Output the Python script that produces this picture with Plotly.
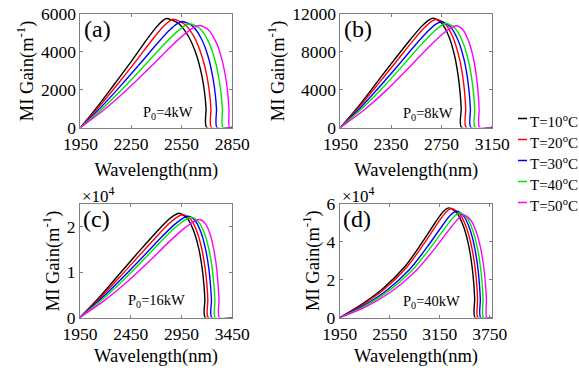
import plotly.graph_objects as go

W, H = 579, 368

temps = ["T=10<sup>o</sup>C", "T=20<sup>o</sup>C", "T=30<sup>o</sup>C", "T=40<sup>o</sup>C", "T=50<sup>o</sup>C"]
colors = ["#000000", "#ff0000", "#0000ff", "#00e600", "#ff00ff"]

# ---------- panel (a) P0 = 4 kW ----------
wl_a_10 = [1950, 2052, 2154, 2256, 2333, 2394, 2435, 2460, 2532, 2591, 2639, 2670, 2687, 2695, 2699, 2850]
g_a_10 = [0, 1120, 2330, 3550, 4530, 5250, 5630, 5770, 5505, 4818, 3814, 2741, 1800, 998, 0, 0]
wl_a_20 = [1950, 2060, 2170, 2280, 2363, 2429, 2473, 2500, 2568, 2625, 2670, 2700, 2716, 2724, 2727, 2850]
g_a_20 = [0, 1100, 2290, 3530, 4500, 5230, 5600, 5730, 5466, 4785, 3788, 2722, 1788, 991, 0, 0]
wl_a_30 = [1950, 2071, 2192, 2313, 2404, 2476, 2525, 2555, 2617, 2668, 2709, 2735, 2750, 2757, 2760, 2850]
g_a_30 = [0, 1066, 2244, 3478, 4432, 5133, 5498, 5610, 5352, 4684, 3708, 2665, 1750, 971, 0, 0]
wl_a_40 = [1950, 2080, 2210, 2339, 2437, 2515, 2567, 2599, 2658, 2707, 2746, 2771, 2785, 2792, 2795, 2850]
g_a_40 = [0, 1000, 2140, 3370, 4320, 5010, 5380, 5490, 5237, 4584, 3629, 2608, 1713, 950, 0, 0]
wl_a_50 = [1950, 2092, 2233, 2375, 2481, 2566, 2623, 2658, 2711, 2755, 2790, 2813, 2825, 2831, 2834, 2850]
g_a_50 = [0, 950, 2060, 3290, 4240, 4930, 5300, 5400, 5152, 4509, 3569, 2565, 1685, 934, 0, 0]

# ---------- panel (b) P0 = 8 kW ----------
wl_b_10 = [1950, 2097, 2243, 2390, 2500, 2588, 2646, 2683, 2751, 2807, 2852, 2881, 2897, 2905, 2908, 3150]
g_b_10 = [0, 2316, 4864, 7411, 9264, 10654, 11348, 11580, 11047, 9669, 7654, 5501, 3613, 2003, 0, 0]
wl_b_20 = [1950, 2102, 2254, 2406, 2520, 2611, 2672, 2710, 2781, 2839, 2886, 2917, 2933, 2941, 2945, 3150]
g_b_20 = [0, 2237, 4703, 7226, 9119, 10529, 11241, 11470, 10942, 9577, 7582, 5448, 3579, 1984, 0, 0]
wl_b_30 = [1950, 2110, 2270, 2429, 2549, 2645, 2709, 2749, 2819, 2877, 2924, 2954, 2970, 2978, 2982, 3150]
g_b_30 = [0, 2126, 4476, 6938, 8840, 10239, 10966, 11190, 10675, 9344, 7397, 5315, 3491, 1936, 0, 0]
wl_b_40 = [1950, 2118, 2286, 2453, 2579, 2680, 2747, 2789, 2857, 2913, 2959, 2988, 3004, 3012, 3015, 3150]
g_b_40 = [0, 1982, 4239, 6716, 8643, 10041, 10790, 11010, 10504, 9193, 7278, 5230, 3435, 1905, 0, 0]
wl_b_50 = [1950, 2134, 2317, 2501, 2639, 2749, 2822, 2868, 2923, 2968, 3005, 3028, 3041, 3047, 3050, 3150]
g_b_50 = [0, 1831, 3985, 6462, 8401, 9801, 10555, 10770, 10275, 8993, 7119, 5116, 3360, 1863, 0, 0]

# ---------- panel (c) P0 = 16 kW ----------
wl_c_10 = [1950, 2146, 2341, 2537, 2684, 2801, 2879, 2928, 3005, 3069, 3121, 3154, 3172, 3181, 3185, 3450]
g_c_10 = [0, 4600, 9660, 14720, 18400, 21160, 22540, 23000, 21942, 19205, 15203, 10925, 7176, 3979, 0, 0]
wl_c_20 = [1950, 2153, 2357, 2560, 2713, 2835, 2916, 2967, 3041, 3103, 3152, 3184, 3202, 3210, 3214, 3450]
g_c_20 = [0, 4430, 9315, 14314, 18062, 20857, 22266, 22720, 21675, 18971, 15018, 10792, 7089, 3931, 0, 0]
wl_c_30 = [1950, 2163, 2377, 2590, 2750, 2878, 2964, 3017, 3087, 3145, 3191, 3221, 3237, 3246, 3249, 3450]
g_c_30 = [0, 4247, 8940, 13857, 17657, 20450, 21903, 22350, 21322, 18662, 14773, 10616, 6973, 3867, 0, 0]
wl_c_40 = [1950, 2170, 2390, 2609, 2774, 2906, 2994, 3049, 3119, 3178, 3225, 3255, 3271, 3280, 3283, 3450]
g_c_40 = [0, 3983, 8520, 13499, 17372, 20183, 21687, 22130, 21112, 18479, 14628, 10512, 6905, 3828, 0, 0]
wl_c_50 = [1950, 2186, 2422, 2659, 2836, 2977, 3072, 3131, 3189, 3237, 3275, 3300, 3313, 3320, 3323, 3450]
g_c_50 = [0, 3675, 7999, 12972, 16864, 19674, 21188, 21620, 20625, 18053, 14291, 10270, 6745, 3740, 0, 0]

# ---------- panel (d) P0 = 40 kW ----------
wl_d_10 = [1950, 2212, 2475, 2737, 2934, 3091, 3196, 3262, 3356, 3434, 3497, 3537, 3559, 3570, 3575, 3780]
g_d_10 = [0, 6924, 15579, 27119, 39236, 49622, 55969, 57700, 55046, 48180, 38140, 27408, 18002, 9982, 0, 0]
wl_d_20 = [1950, 2218, 2486, 2754, 2955, 3116, 3223, 3290, 3386, 3466, 3530, 3572, 3594, 3605, 3610, 3780]
g_d_20 = [0, 6594, 15023, 26491, 38532, 49026, 55448, 57340, 54702, 47879, 37902, 27237, 17890, 9920, 0, 0]
wl_d_30 = [1950, 2230, 2510, 2790, 3000, 3168, 3280, 3350, 3438, 3511, 3569, 3607, 3627, 3638, 3642, 3780]
g_d_30 = [0, 6151, 14260, 25444, 37187, 47532, 53963, 55920, 53348, 46693, 36963, 26562, 17447, 9674, 0, 0]
wl_d_40 = [1950, 2238, 2526, 2814, 3030, 3203, 3318, 3390, 3476, 3547, 3604, 3641, 3661, 3671, 3675, 3780]
g_d_40 = [0, 5778, 13647, 24653, 36210, 46500, 52939, 55030, 52499, 45950, 36375, 26139, 17169, 9520, 0, 0]
wl_d_50 = [1950, 2248, 2545, 2843, 3066, 3245, 3364, 3438, 3521, 3590, 3646, 3682, 3701, 3711, 3715, 3780]
g_d_50 = [0, 5379, 12910, 23668, 34964, 45184, 51638, 53790, 51316, 44915, 35555, 25550, 16782, 9306, 0, 0]

panels = [
    ("", [(wl_a_10, g_a_10), (wl_a_20, g_a_20), (wl_a_30, g_a_30), (wl_a_40, g_a_40), (wl_a_50, g_a_50)]),
    ("2", [(wl_b_10, g_b_10), (wl_b_20, g_b_20), (wl_b_30, g_b_30), (wl_b_40, g_b_40), (wl_b_50, g_b_50)]),
    ("3", [(wl_c_10, g_c_10), (wl_c_20, g_c_20), (wl_c_30, g_c_30), (wl_c_40, g_c_40), (wl_c_50, g_c_50)]),
    ("4", [(wl_d_10, g_d_10), (wl_d_20, g_d_20), (wl_d_30, g_d_30), (wl_d_40, g_d_40), (wl_d_50, g_d_50)]),
]

x_ranges = [[1950, 2850], [1950, 3150], [1950, 3450], [1950, 3780]]
x_ticks = [[1950, 2250, 2550, 2850], [1950, 2350, 2750, 3150], [1950, 2450, 2950, 3450], [1950, 2550, 3150, 3750]]
y_ranges = [[0, 6000], [0, 12000], [0, 25000], [0, 60000]]
y_tickvals = [[0, 2000, 4000, 6000], [0, 4000, 8000, 12000], [0, 10000, 20000], [0, 20000, 40000, 60000]]
y_ticktext = [["0", "2000", "4000", "6000"], ["0", "4000", "8000", "12000"], ["0", "1", "2"], ["0", "2", "4", "6"]]
panel_tags = ["(a)", "(b)", "(c)", "(d)"]
power_labels = ["P<sub>0</sub>=4kW", "P<sub>0</sub>=8kW", "P<sub>0</sub>=16kW", "P<sub>0</sub>=40kW"]
power_pos = [(0.58, 0.13), (0.58, 0.12), (0.5, 0.15), (0.6, 0.14)]
x_domains = [[0.139, 0.401], [0.588, 0.850], [0.138, 0.401], [0.587, 0.850]]
y_domains = [[0.6535, 0.9615], [0.6535, 0.9615], [0.137, 0.445], [0.137, 0.447]]
x_title_standoff = [10, 10, 6, 6]

FONT = "Liberation Serif"
fig = go.Figure()

for i, (suf, curves) in enumerate(panels):
    for j, (xs, ys) in enumerate(curves):
        fig.add_trace(go.Scatter(
            x=xs, y=ys, mode="lines", name=temps[j], showlegend=False,
            line=dict(color=colors[j], width=1.4, shape="spline", smoothing=0.8),
            xaxis="x" + suf, yaxis="y" + suf))

axis_common = dict(showgrid=False, zeroline=False, showline=True, linecolor="#808080",
                   linewidth=1, mirror="ticks", ticks="inside", ticklen=3, tickcolor="#808080",
                   automargin=False,
                   tickfont=dict(family=FONT, size=17.5, color="black"))

layout = dict(template="none", width=W, height=H, margin=dict(l=0, r=0, t=0, b=0, pad=0),
              plot_bgcolor="white", paper_bgcolor="white",
              font=dict(family=FONT, color="black"), showlegend=False)

annotations = []
for i in range(4):
    suf = ["", "2", "3", "4"][i]
    xk = "xaxis" + suf
    yk = "yaxis" + suf
    layout[xk] = dict(axis_common, domain=x_domains[i], range=x_ranges[i], tickvals=x_ticks[i],
                      anchor="y" + suf,
                      title=dict(text="Wavelength(nm)", font=dict(family=FONT, size=18.5),
                                 standoff=x_title_standoff[i]))
    layout[yk] = dict(axis_common, domain=y_domains[i], range=y_ranges[i], tickvals=y_tickvals[i],
                      ticktext=y_ticktext[i], anchor="x" + suf,
                      title=dict(text="MI Gain(m<sup>-1</sup>)", font=dict(family=FONT, size=18.5), standoff=2))
    annotations.append(dict(text=panel_tags[i], xref="x" + suf + " domain", yref="y" + suf + " domain",
                            x=0.01, y=1.0, xanchor="left", yanchor="top", showarrow=False,
                            font=dict(family=FONT, size=24)))
    annotations.append(dict(text=power_labels[i], xref="x" + suf + " domain", yref="y" + suf + " domain",
                            x=power_pos[i][0], y=power_pos[i][1], xanchor="center", yanchor="middle",
                            showarrow=False, font=dict(family=FONT, size=14.5)))
    if i >= 2:
        annotations.append(dict(text="\u00d710<sup>4</sup>", xref="x" + suf + " domain",
                                yref="y" + suf + " domain", x=0.0, y=1.0, xanchor="left",
                                yanchor="bottom", yshift=-4, showarrow=False,
                                font=dict(family=FONT, size=17)))

# manual legend
shapes = []
for j in range(5):
    yc = 120.5 + 21 * j
    shapes.append(dict(type="line", xref="paper", yref="paper",
                       x0=518 / W, x1=527 / W, y0=1 - (yc - 2) / H, y1=1 - (yc - 2) / H,
                       line=dict(color=colors[j], width=1.5)))
    annotations.append(dict(text=temps[j], xref="paper", yref="paper", x=528 / W, y=1 - yc / H,
                            xanchor="left", yanchor="middle", showarrow=False,
                            font=dict(family=FONT, size=15)))

layout["annotations"] = annotations
layout["shapes"] = shapes
fig.update_layout(**layout)
fig.write_html("out.html")
